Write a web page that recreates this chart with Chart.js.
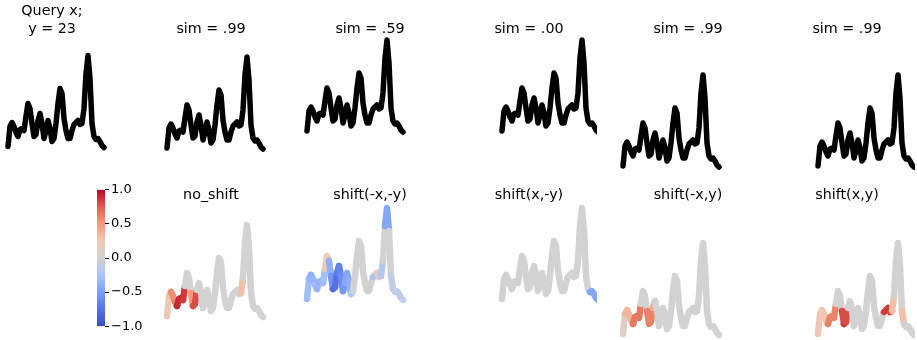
<!DOCTYPE html>
<html>
<head>
<meta charset="utf-8">
<script src="https://cdn.jsdelivr.net/npm/chart.js@4/dist/chart.umd.min.js"></script>
<style>
body { margin: 0; width: 917px; height: 340px; overflow: hidden; background: #fff; position: relative; }
canvas { position: absolute; }
</style>
</head>
<body>
<script>
// query signal, one value per time step
const signal = [0.2, 2.2, 2.6, 2.2, 1.6, 1.2, 1.9, 2.0, 1.8, 3.2, 4.5, 4.0, 2.5, 1.2, 1.4, 2.8, 3.5, 2.5, 1.0, 1.8,
    2.8, 2.0, 0.7, 1.0, 2.5, 4.5, 6.0, 5.5, 3.0, 1.8, 1.0, 1.0, 1.8, 2.4, 2.6, 2.8, 2.4, 2.5, 4.0, 7.5,
    9.3, 7.0, 2.5, 1.2, 0.9, 1.0, 0.7, 0.3, 0.1];

const topTitles = [['Query x;', 'y = 23'], 'sim = .99', 'sim = .59', 'sim = .00', 'sim = .99', 'sim = .99'];
const bottomTitles = ['no_shift', 'shift(-x,-y)', 'shift(x,-y)', 'shift(-x,y)', 'shift(x,y)'];

// shift of each column (time steps, signal units)
const shiftX = [0, 0, -9.5, 8.5, -10.5, 7.5];
const shiftY = [0.15, 0, 1.7, 1.7, -1.8, -1.8];

// attribution per time step, bottom row
const attrNoShift = [0.2, 0.3, 0.55, 0.55, 0.6, 0.9, 0.9, 0.9, 0.85, 0, 0, 0, 0.5, 0.8, 0.8, 0, 0,
    0, 0, 0, 0, 0, 0, 0, 0, 0, 0, 0, 0, 0, 0, 0, 0, 0, 0, 0, 0, 0.3, 0, 0, 0, 0, 0, 0, 0, 0, 0, 0, 0];
const attrNegXNegY = [-0.3, -0.35, -0.4, -0.35, -0.3, -0.35, -0.4, -0.35, -0.3, 0.2, 0.2,
    -0.4, -0.55, -0.8, -0.75, -0.7, -0.65, -0.6, -0.55, -0.45, -0.45, -0.4, -0.25,
    0, 0, 0, 0, 0, 0, 0, 0, 0, 0, -0.25, -0.25, 0.2, 0.2, -0.2, 0, -0.45, -0.45, 0,
    -0.12, -0.12, -0.12, -0.12, -0.12, -0.12, -0.12];
const attrPosXNegY = [0, 0, 0, 0, 0, 0, 0, 0, 0, 0, 0, 0, 0, 0, 0, 0, 0, 0, 0, 0, 0, 0, 0, 0, 0, 0, 0, 0,
    0, 0, 0, 0, 0, 0, 0, 0, 0, 0, 0, 0, 0, 0, 0, 0, -0.45, -0.45, -0.45, -0.45, -0.45];
const attrNegXPosY = [0.1, 0.35, 0.35, 0.35, 0.35, 0.65, 0.65, 0.65, 0.65, 0, 0, 0, 0.6, 0.6, 0.6, 0.4, 0, 0,
    0, 0, 0, 0, 0, 0, 0, 0, 0, 0, 0, 0, 0, 0, 0, 0, 0, 0, 0, 0, 0, 0, 0, 0, 0, 0, 0, 0, 0, 0, 0];
const attrPosXPosY = [0.25, 0.25, 0.25, 0.25, 0.25, 0.6, 0.6, 0.6, 0.6, 0, 0, 0, 0.8, 0.85, 0.8, 0, 0,
    0, 0, 0, 0, 0, 0, 0, 0, 0, 0, 0, 0, 0, 0, 0, 0, 0.85, 0.85, 0.85, 0.85, 0.3, 0, 0, 0, 0,
    0.3, 0, 0, 0, 0, 0, 0];
const bottomAttrs = [attrNoShift, attrNegXNegY, attrPosXNegY, attrNegXPosY, attrPosXPosY];

const colorbarTicks = [-1, -0.5, 0, 0.5, 1];

// coolwarm-ish colour map
const cmapStops = [
    [-1, [59, 76, 192]], [-0.75, [85, 114, 227]], [-0.5, [124, 159, 249]], [-0.25, [170, 199, 253]],
    [0, [210, 210, 210]], [0.25, [242, 200, 180]], [0.5, [244, 154, 123]], [0.75, [222, 96, 77]], [1, [180, 4, 38]]
];
function cmap(v) {
    v = Math.max(-1, Math.min(1, v));
    for (let i = 1; i < cmapStops.length; i++) {
        const [v1, c1] = cmapStops[i];
        const [v0, c0] = cmapStops[i - 1];
        if (v <= v1) {
            const t = (v - v0) / (v1 - v0);
            const c = c0.map((a, k) => Math.round(a + (c1[k] - a) * t));
            return `rgb(${c[0]},${c[1]},${c[2]})`;
        }
    }
    return 'rgb(180,4,38)';
}

const colCenters = [52, 211, 370, 529, 688, 847];
const panelW = 136, panelH = 180, rowOffset = 168;

function addCanvas(left, top, w, h) {
    const c = document.createElement('canvas');
    c.width = w; c.height = h;
    c.style.left = left + 'px';
    c.style.top = top + 'px';
    document.body.appendChild(c);
    return c;
}

function panel(col, top, title, lineWidth, attr) {
    const canvas = addCanvas(colCenters[col] - panelW / 2, top, panelW, panelH);
    const pts = signal.map((v, i) => ({ x: i + shiftX[col], y: v + shiftY[col] }));
    const multi = Array.isArray(title);
    // title block is always 38px tall so every panel shares the same scale
    const pad = multi ? { top: 2, bottom: 0 } : (attr ? { top: 18, bottom: 2 } : { top: 20, bottom: 0 });
    const ds = {
        data: pts,
        borderColor: attr ? cmap(0) : '#000',
        borderWidth: lineWidth,
        pointRadius: 0,
        tension: 0,
        borderCapStyle: 'round',
        borderJoinStyle: 'round',
        clip: { left: 0, right: 0, top: false, bottom: false }
    };
    if (attr) {
        ds.segment = { borderColor: c => cmap(attr[c.p0DataIndex]) };
    }
    new Chart(canvas, {
        type: 'line',
        data: { datasets: [ds] },
        options: {
            responsive: false,
            animation: false,
            layout: { padding: 0 },
            plugins: {
                legend: { display: false },
                tooltip: { enabled: false },
                title: {
                    display: true,
                    text: title,
                    color: '#000',
                    font: { family: 'DejaVu Sans', size: 14.3, weight: 'normal', lineHeight: '18px' },
                    padding: pad
                }
            },
            scales: {
                x: { type: 'linear', min: -12, max: 56, display: false },
                y: { type: 'linear', min: -3, max: 11.2, display: false }
            }
        }
    });
}

topTitles.forEach((t, i) => panel(i, 0, t, 5.5, null));
bottomTitles.forEach((t, i) => panel(i + 1, rowOffset, t, 6.5, bottomAttrs[i]));

// colour bar
const cb = addCanvas(97, 180, 50, 156);
new Chart(cb, {
    type: 'bar',
    data: {
        labels: [''],
        datasets: [{
            data: [[-1, 1]],
            borderWidth: 0,
            barPercentage: 1,
            categoryPercentage: 1,
            backgroundColor: ctx => {
                const a = ctx.chart.chartArea;
                if (!a) return '#ddd';
                const g = ctx.chart.ctx.createLinearGradient(0, a.bottom, 0, a.top);
                cmapStops.forEach(([v, c]) => g.addColorStop((v + 1) / 2, `rgb(${c[0]},${c[1]},${c[2]})`));
                return g;
            }
        }]
    },
    options: {
        responsive: false,
        animation: false,
        layout: { padding: 0 },
        plugins: { legend: { display: false }, tooltip: { enabled: false } },
        scales: {
            x: { display: false },
            y: {
                position: 'right',
                min: -1,
                max: 1,
                afterBuildTicks: s => { s.ticks = colorbarTicks.map(v => ({ value: v })); },
                afterFit: s => { s.width = 42; },
                ticks: {
                    color: '#000',
                    padding: 2,
                    font: { family: 'DejaVu Sans', size: 13 },
                    callback: v => v.toFixed(1).replace('-', '\u2212')
                },
                grid: { drawOnChartArea: false, drawTicks: true, tickLength: 4, color: '#000' },
                border: { display: false }
            }
        }
    }
});
</script>
</body>
</html>
